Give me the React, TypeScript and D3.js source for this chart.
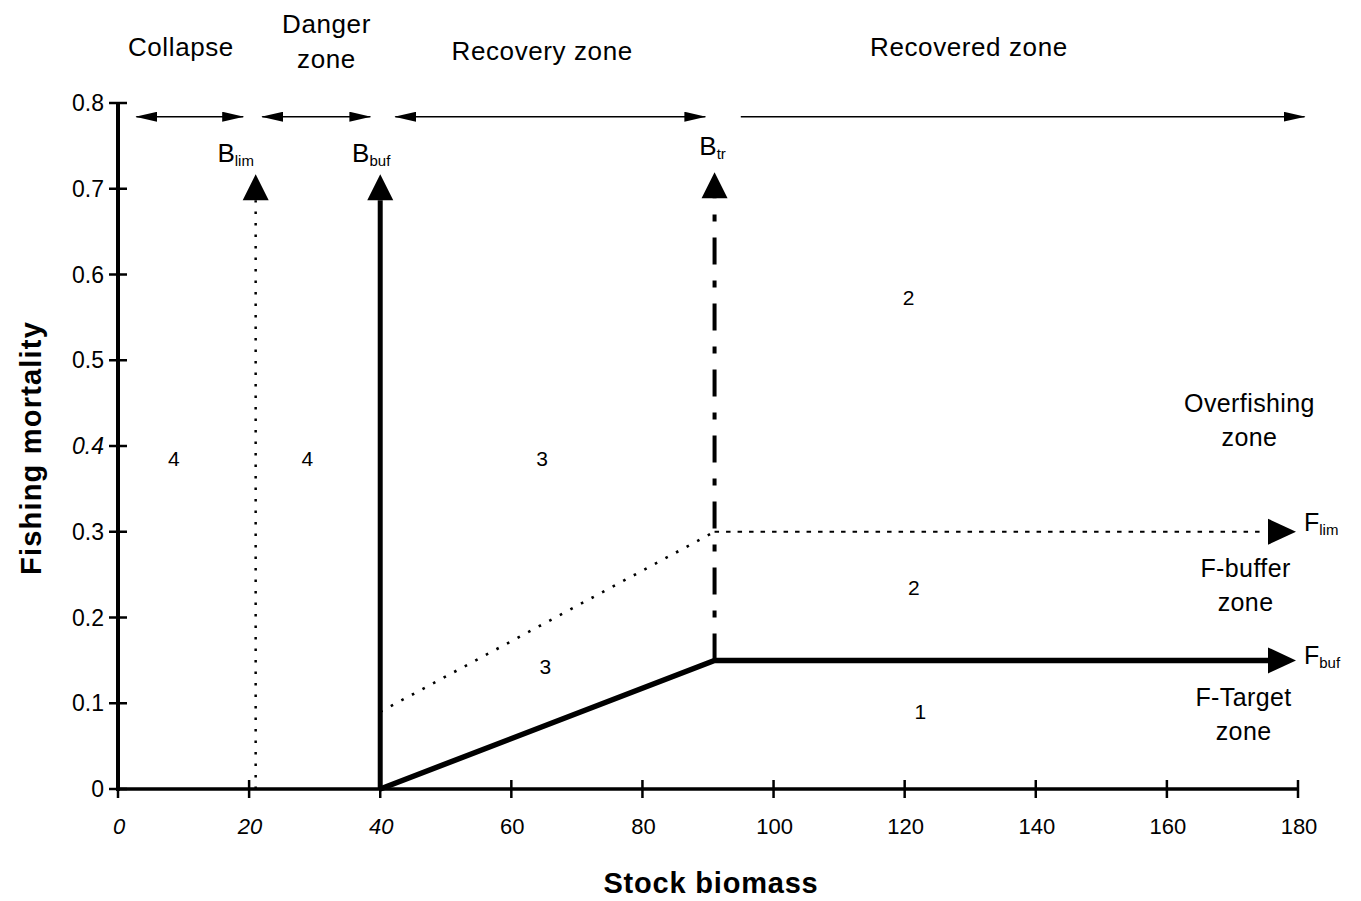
import React from "react";
import * as d3 from "d3";

// ---------- data ----------
const X_TICKS = [0, 20, 40, 60, 80, 100, 120, 140, 160, 180];
const X_ITALIC_TICKS = [0, 20, 40];
const Y_TICKS = [0, 0.1, 0.2, 0.3, 0.4, 0.5, 0.6, 0.7, 0.8];
const Y_TICK_LABELS = ["0", "0.1", "0.2", "0.3", "0.4", "0.5", "0.6", "0.7", "0.8"];
const Y_ITALIC_TICKS = [0.4];

const B_SUBS = ["lim", "buf", "tr"];
const B_VALUES = [21, 40, 91];
const B_ARROW_TOP = 0.717;

const F_SUBS = ["lim", "buf"];
const F_VALUES = [0.3, 0.15];

// harvest control rule (F-buffer line, solid) and limit line (dotted)
const HCR_B = [40, 91, 180];
const HCR_F = [0, 0.15, 0.15];
const LIMIT_B = [40, 91, 180];
const LIMIT_F = [0.09, 0.3, 0.3];

// zone arrows along the top
const ZONE_NAMES = [["Collapse"], ["Danger", "zone"], ["Recovery zone"], ["Recovered zone"]];
const ZONE_LABEL_B = [9.6, 31.8, 64.7, 129.8];
const ZONE_FROM = [2.8, 22.0, 42.3, 95.0];
const ZONE_TO = [19.1, 38.5, 89.6, 181.0];
const ZONE_START_HEAD = [true, true, true, false];
const ZONE_ARROW_F = 0.784;

// region numbers
const REGION_LABELS = ["4", "4", "3", "3", "2", "2", "1"];
const REGION_B = [8.5, 28.9, 64.7, 65.2, 120.6, 121.4, 122.4];
const REGION_F = [0.386, 0.386, 0.386, 0.143, 0.574, 0.236, 0.091];

// F-zone labels on the right
const F_ZONE_LINES = [["Overfishing", "zone"], ["F-buffer", "zone"], ["F-Target", "zone"]];
const F_ZONE_F = [0.43, 0.238, 0.088];
const F_ZONE_B = [172.6, 172.0, 171.7];

// ---------- chart ----------
const W = 1361;
const H = 901;
const FONT = "'Liberation Sans', Arial, Helvetica, sans-serif";

export default function App() {
  const x = d3.scaleLinear().domain([0, 180]).range([118, 1298]);
  const y = d3.scaleLinear().domain([0, 0.8]).range([789, 103]);

  const line = d3
    .line<[number, number]>()
    .x((d) => x(d[0]))
    .y((d) => y(d[1]));

  const hcrPts: [number, number][] = HCR_B.map((b, i) => [b, HCR_F[i]]);
  const limPts: [number, number][] = LIMIT_B.map((b, i) => [b, LIMIT_F[i]]);

  const headLen = 28;
  const headHalf = 13;

  // vertical B arrows
  const bArrows = B_VALUES.map((b, i) => {
    const cx = x(b);
    const tip = y(B_ARROW_TOP) + (i === 2 ? -2 : 0);
    const base = tip + headLen - 2;
    const startF = i === 2 ? 0.15 : 0;
    return { cx, tip, base, y0: y(startF), i };
  });

  // horizontal F arrows
  const fTipX = x(180) - 2;

  return (
    <svg
      width={W}
      height={H}
      viewBox={`0 0 ${W} ${H}`}
      style={{ position: "absolute", left: 0, top: 0, background: "#fff" }}
      fontFamily={FONT}
    >
      <defs>
        <marker
          id="zh"
          viewBox="0 0 22 10"
          refX="21"
          refY="5"
          markerWidth="22"
          markerHeight="10"
          markerUnits="userSpaceOnUse"
          orient="auto-start-reverse"
        >
          <path d="M0,0 L22,5 L0,10 Z" fill="#000" />
        </marker>
      </defs>

      {/* axes */}
      <line x1={x(0)} x2={x(0)} y1={y(0) + 2} y2={y(0.8)} stroke="#000" strokeWidth={4} />
      <line x1={x(0) - 2} x2={x(180)} y1={y(0)} y2={y(0)} stroke="#000" strokeWidth={3.5} />
      {Y_TICKS.map((t) => (
        <line key={"yt" + t} x1={x(0) - 9} x2={x(0) + 9} y1={y(t)} y2={y(t)} stroke="#000" strokeWidth={2.5} />
      ))}
      {X_TICKS.map((t) => (
        <line key={"xt" + t} x1={x(t)} x2={x(t)} y1={y(0) - 9} y2={y(0) + 9} stroke="#000" strokeWidth={2.5} />
      ))}
      {Y_TICKS.map((t, i) => (
        <text
          key={"yl" + t}
          x={x(0) - 14}
          y={y(t) + 8}
          textAnchor="end"
          fontSize={23}
          fontStyle={Y_ITALIC_TICKS.includes(t) ? "italic" : "normal"}
        >
          {Y_TICK_LABELS[i]}
        </text>
      ))}
      {X_TICKS.map((t) => (
        <text
          key={"xl" + t}
          x={x(t) + 1}
          y={y(0) + 45}
          textAnchor="middle"
          fontSize={22}
          fontStyle={X_ITALIC_TICKS.includes(t) ? "italic" : "normal"}
        >
          {t}
        </text>
      ))}
      <text x={711} y={893} textAnchor="middle" fontSize={29} fontWeight="bold" letterSpacing={0.8}>
        Stock biomass
      </text>
      <text
        transform={`translate(41,448) rotate(-90)`}
        textAnchor="middle"
        fontSize={29}
        fontWeight="bold"
        letterSpacing={1.2}
      >
        Fishing mortality
      </text>

      {/* zone arrows at top */}
      {ZONE_FROM.map((f, i) => (
        <line
          key={"za" + i}
          x1={x(f)}
          x2={x(ZONE_TO[i])}
          y1={y(ZONE_ARROW_F)}
          y2={y(ZONE_ARROW_F)}
          stroke="#000"
          strokeWidth={1.6}
          markerEnd="url(#zh)"
          markerStart={ZONE_START_HEAD[i] ? "url(#zh)" : undefined}
        />
      ))}
      {ZONE_NAMES.map((lines, i) =>
        lines.map((s, j) => (
          <text
            key={"zn" + i + j}
            x={x(ZONE_LABEL_B[i])}
            y={lines.length > 1 ? 33 + j * 35 : i === 2 ? 60 : 56}
            textAnchor="middle"
            fontSize={26}
            letterSpacing={0.6}
          >
            {s}
          </text>
        ))
      )}

      {/* limit (dotted) line */}
      <path
        d={line(limPts.slice(0, 2)) || ""}
        fill="none"
        stroke="#000"
        strokeWidth={2.6}
        strokeDasharray="2.6 9.4"
      />
      <path
        d={line([limPts[1], [limPts[2][0] - 5, limPts[2][1]]]) || ""}
        fill="none"
        stroke="#000"
        strokeWidth={2}
        strokeDasharray="4.5 7"
      />

      {/* B reference lines */}
      {bArrows.map((a) => (
        <g key={"ba" + a.i}>
          <line
            x1={a.cx}
            x2={a.cx}
            y1={a.y0}
            y2={a.base}
            stroke="#000"
            strokeWidth={a.i === 0 ? 2.5 : a.i === 1 ? 5 : 4}
            strokeDasharray={a.i === 0 ? "2.5 9" : a.i === 2 ? "27 16 7 16" : undefined}
          />
          <path
            d={`M${a.cx},${a.tip} L${a.cx + headHalf},${a.base} L${a.cx - headHalf},${a.base} Z`}
            fill="#000"
          />
        </g>
      ))}

      {/* HCR solid line */}
      <path
        d={line([hcrPts[0], hcrPts[1], [hcrPts[2][0] - 4, hcrPts[2][1]]]) || ""}
        fill="none"
        stroke="#000"
        strokeWidth={5.5}
        strokeLinejoin="miter"
      />

      {/* F arrow heads */}
      {F_VALUES.map((f, i) => (
        <path
          key={"fa" + i}
          d={`M${fTipX},${y(f)} L${fTipX - headLen},${y(f) - headHalf} L${fTipX - headLen},${y(f) + headHalf} Z`}
          fill="#000"
        />
      ))}
      {F_VALUES.map((f, i) => (
        <text key={"fl" + i} x={fTipX + 8} y={y(f) + (i === 0 ? -1 : 4)} fontSize={25}>
          F
          <tspan fontSize={15} dy={4}>
            {F_SUBS[i]}
          </tspan>
        </text>
      ))}

      {/* B labels */}
      {B_VALUES.map((b, i) => (
        <text
          key={"bl" + i}
          x={x(b) + (i === 0 ? -20 : i === 1 ? -9 : -2)}
          y={i === 2 ? 155 : 162}
          textAnchor="middle"
          fontSize={26}
        >
          B
          <tspan fontSize={15} dy={4}>
            {B_SUBS[i]}
          </tspan>
        </text>
      ))}

      {/* region numbers */}
      {REGION_LABELS.map((s, i) => (
        <text
          key={"rn" + i}
          x={x(REGION_B[i])}
          y={y(REGION_F[i]) + 8}
          textAnchor="middle"
          fontSize={21}
        >
          {s}
        </text>
      ))}

      {/* F zone labels */}
      {F_ZONE_LINES.map((lines, i) =>
        lines.map((s, j) => (
          <text
            key={"fz" + i + j}
            x={x(F_ZONE_B[i])}
            y={y(F_ZONE_F[i]) - 8 + j * 34}
            textAnchor="middle"
            fontSize={25}
            letterSpacing={0.4}
          >
            {s}
          </text>
        ))
      )}
    </svg>
  );
}
